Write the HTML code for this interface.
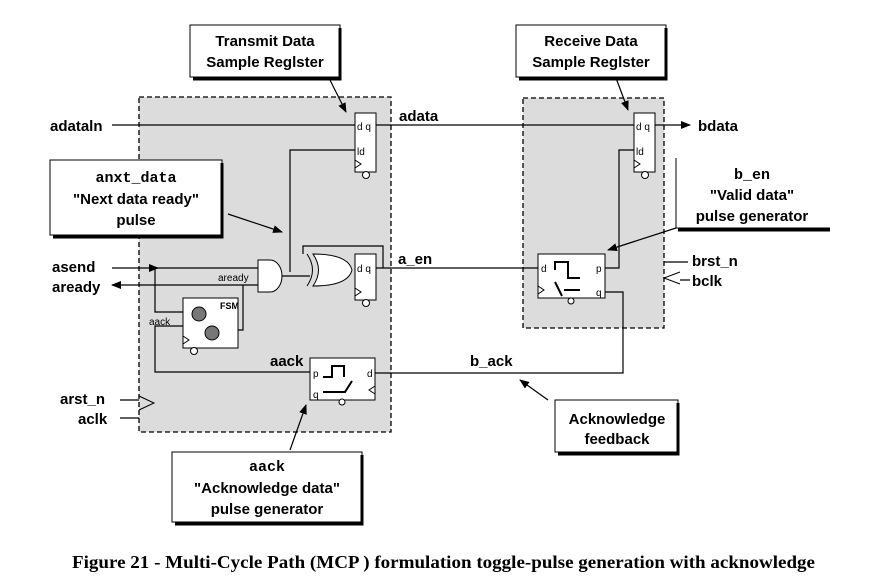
<!DOCTYPE html>
<html><head><style>body{margin:0;background:#fff}svg{display:block}</style></head><body>
<svg width="880" height="583" xmlns="http://www.w3.org/2000/svg" font-family="Liberation Sans, sans-serif">
<defs><marker id="a" markerWidth="10" markerHeight="8" refX="9" refY="4" orient="auto" markerUnits="userSpaceOnUse"><path d="M0,0L10,4L0,8z" fill="#000"/></marker></defs>
<rect x="139" y="97" width="252" height="335" fill="#dcdcdc" stroke="#000" stroke-dasharray="5,3" stroke-width="1.3"/>
<rect x="523" y="98" width="141" height="230" fill="#dcdcdc" stroke="#000" stroke-dasharray="5,3" stroke-width="1.3"/>
<g stroke="#000" stroke-width="1.2" fill="none">
<path d="M112,125H355"/><path d="M376,125H690" marker-end="url(#a)"/>
<path d="M290,272V150H355"/>
<path d="M112,268H258"/><path d="M150,268H158" marker-end="url(#a)"/>
<path d="M258,285H112" marker-end="url(#a)"/>
<path d="M282,276H310"/>
<path d="M303,254V246H383V268"/>
<path d="M376,268H540"/>
<path d="M155,268V312H183"/>
<path d="M183,326H155V372H312"/>
<path d="M238,330H243V285"/>
<path d="M375,373H623V292H605"/>
<path d="M605,268H619V150H634"/>
<path d="M664,262H688M680,280H690"/>
<path d="M120,400H139M120,418H139"/>
<path d="M330,80L346,112" marker-end="url(#a)"/>
<path d="M616,78L628,110" marker-end="url(#a)"/>
<path d="M228,214L282,232" marker-end="url(#a)"/>
<path d="M548,400L520,380" marker-end="url(#a)"/>
<path d="M290,450L306,405" marker-end="url(#a)"/>
<path d="M676,228L608,250" marker-end="url(#a)"/>
</g>
<g stroke="#000" stroke-width="1" fill="#fff">
<rect x="355" y="113" width="21" height="59"/><circle cx="366" cy="175" r="3.5"/>
<rect x="634" y="113" width="21" height="59"/><circle cx="645" cy="175" r="3.5"/>
<rect x="355" y="254" width="21" height="46"/><circle cx="366" cy="303" r="3.5"/>
<path d="M258,260H270A12,16 0 0 1 270,292H258Z"/>
<path d="M313,254Q348,254 352,270Q348,286 313,286Q324,270 313,254Z"/>
<path d="M307,254Q318,270 307,286" fill="none"/>
<rect x="183" y="298" width="55" height="50"/><circle cx="194" cy="351" r="3.5"/>
<circle cx="199" cy="314" r="7" fill="#777"/><circle cx="212" cy="333" r="7" fill="#777"/>
<rect x="310" y="358" width="65" height="42"/><circle cx="342" cy="402" r="3"/>
<rect x="538" y="254" width="67" height="44"/><circle cx="571" cy="301" r="3"/>
</g>
<g stroke="#000" fill="none" stroke-width="1">
<path d="M355,160L361,164L355,168M634,160L640,164L634,168M355,288L361,292L355,296M183,336L189,340L183,344M538,286L544,290L538,294"/>
<path d="M139,396L154,403L139,410M680,272L664,278L680,284M375,386L369,390L375,394"/>
<path d="M555,270V262H568V278H580M564,290H580M555,282L562,296" stroke-width="2"/>
<path d="M323,377H332V366H344V377M323,392H345L352,381" stroke-width="2"/>
</g>
<g font-size="10" font-family="Liberation Sans, sans-serif">
<text x="357" y="130">d q</text><text x="357" y="155">ld</text>
<text x="636" y="130">d q</text><text x="636" y="155">ld</text>
<text x="357" y="272">d q</text>
<text x="541" y="272">d</text><text x="596" y="272">p</text><text x="596" y="296">q</text>
<text x="313" y="377">p</text><text x="313" y="398">q</text><text x="367" y="377">d</text>
<text x="220" y="309" font-weight="bold" font-size="9">FSM</text>
<text x="218" y="281">aready</text><text x="149" y="325">aack</text>
</g>
<g font-size="15" font-weight="bold">
<text x="50" y="131">adataln</text><text x="399" y="121">adata</text><text x="698" y="131">bdata</text>
<text x="52" y="272">asend</text><text x="52" y="292">aready</text><text x="398" y="264">a_en</text>
<text x="692" y="266">brst_n</text><text x="692" y="286">bclk</text>
<text x="60" y="404">arst_n</text><text x="78" y="424">aclk</text>
<text x="270" y="366">aack</text><text x="470" y="366">b_ack</text>
</g>
<g stroke="#000" fill="#fff" stroke-width="1">
<rect x="190" y="25" width="150" height="52"/><path d="M340,28V79H193" stroke-width="3" fill="none"/>
<rect x="516" y="25" width="150" height="52"/><path d="M666,28V79H519" stroke-width="3" fill="none"/>
<rect x="50" y="160" width="172" height="75"/><path d="M222,163V237H53" stroke-width="3" fill="none"/>
<rect x="555" y="400" width="123" height="52"/><path d="M678,403V454H558" stroke-width="3" fill="none"/>
<rect x="172" y="452" width="190" height="70"/><path d="M362,455V524H175" stroke-width="3" fill="none"/>
<path d="M676,158V228H830" fill="none"/><path d="M678,230H830" stroke-width="3"/>
</g>
<g font-size="15" font-weight="bold" text-anchor="middle">
<text x="265" y="46">Transmit Data</text><text x="265" y="67">Sample Reglster</text>
<text x="591" y="46">Receive Data</text><text x="591" y="67">Sample Reglster</text>
<text x="136" y="182" font-family="Liberation Mono, monospace">anxt_data</text>
<text x="136" y="204">"Next data ready"</text><text x="136" y="225">pulse</text>
<text x="752" y="179" font-family="Liberation Mono, monospace">b_en</text>
<text x="752" y="200">"Valid data"</text><text x="752" y="221">pulse generator</text>
<text x="617" y="424">Acknowledge</text><text x="617" y="444">feedback</text>
<text x="267" y="471" font-family="Liberation Mono, monospace">aack</text>
<text x="267" y="493">"Acknowledge data"</text><text x="267" y="514">pulse generator</text>
</g>
<text x="72" y="568" font-family="Liberation Serif, serif" font-weight="bold" font-size="17.5" textLength="743" lengthAdjust="spacingAndGlyphs">Figure 21 - Multi-Cycle Path (MCP ) formulation toggle-pulse generation with acknowledge</text>
</svg>
</body></html>
